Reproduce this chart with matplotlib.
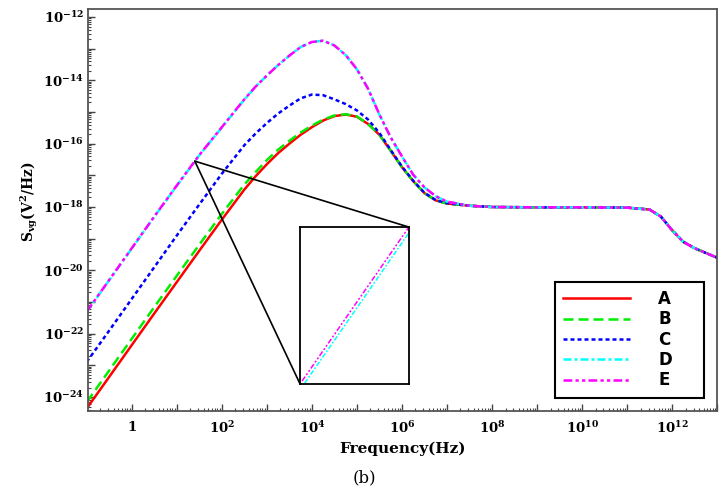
import numpy as np
import matplotlib
matplotlib.use("Agg")
import matplotlib.pyplot as plt
from matplotlib.ticker import LogLocator, FuncFormatter, NullFormatter
from matplotlib.patches import ConnectionPatch

plt.rcParams['mathtext.fontset'] = 'custom'
plt.rcParams['mathtext.rm'] = 'DejaVu Serif'
plt.rcParams['mathtext.it'] = 'DejaVu Serif:italic'
plt.rcParams['mathtext.bf'] = 'DejaVu Serif:bold'

# frequency grid (log10 Hz) and noise PSD (log10 V^2/Hz)
log_f = [-1, -0.5, 0, 0.5, 1, 1.5, 2, 2.5, 2.75, 3, 3.25, 3.5, 3.75, 4, 4.25, 4.5, 4.75,
         5, 5.25, 5.5, 5.75, 6, 6.25, 6.5, 6.75, 7,
         7.5, 8, 9, 10, 11, 11.5, 11.75, 12, 12.25, 12.5, 13]

# common high-frequency part (7.5 .. 13)
plateau = [-17.96, -18.0, -18.01, -18.01, -18.02, -18.08, -18.3, -18.73, -19.1, -19.3, -19.6]

A = [-24.36, -23.36, -22.36, -21.36, -20.37, -19.38, -18.4, -17.45, -17.03, -16.65, -16.3, -16.0,
     -15.72, -15.48, -15.27, -15.13, -15.08, -15.15, -15.38, -15.72, -16.22, -16.74, -17.18,
     -17.56, -17.79, -17.89] + plateau
B = [-24.16, -23.16, -22.16, -21.16, -20.17, -19.19, -18.22, -17.29, -16.9, -16.52, -16.19, -15.91,
     -15.65, -15.43, -15.24, -15.11, -15.07, -15.14, -15.38, -15.72, -16.22, -16.74, -17.18,
     -17.56, -17.79, -17.89] + plateau
C = [-22.89, -21.9, -20.9, -19.9, -18.9, -17.92, -16.95, -16.05, -15.68, -15.35, -15.05, -14.8,
     -14.57, -14.45, -14.47, -14.6, -14.75, -14.95, -15.24, -15.66, -16.2, -16.72, -17.17,
     -17.55, -17.78, -17.88] + plateau
D = [-21.31, -20.31, -19.31, -18.31, -17.33, -16.37, -15.49, -14.61, -14.2, -13.85, -13.52, -13.22,
     -12.95, -12.79, -12.75, -12.9, -13.2, -13.65, -14.27, -15.08, -15.8, -16.4, -16.98,
     -17.38, -17.66, -17.83] + plateau
E = [-21.3, -20.3, -19.3, -18.3, -17.32, -16.36, -15.48, -14.6, -14.2, -13.85, -13.52, -13.22,
     -12.95, -12.79, -12.75, -12.9, -13.2, -13.65, -14.27, -15.08, -15.8, -16.4, -16.98,
     -17.38, -17.66, -17.83] + plateau

labels = ["A", "B", "C", "D", "E"]
colors = ["#ff0000", "#00ee00", "#0000ff", "#00ffff", "#ff00ff"]
dashes = [None, (4, 2), (1.6, 1.2), (3.2, 1.2, 1.2, 1.2), (3.5, 1.3, 1.3, 1.3, 1.3, 1.3)]

f = 10.0 ** np.array(log_f)
series = [A, B, C, D, E]

fig = plt.figure(figsize=(7.28, 4.93), dpi=100)
ax = fig.add_axes([0.121, 0.167, 0.864, 0.814])

lines = []
for vals, lab, col, ds in zip(series, labels, colors, dashes):
    ln, = ax.plot(f, 10.0 ** np.array(vals), color=col, lw=1.8, label=lab)
    if ds is not None:
        ln.set_dashes(ds)
    lines.append(ln)

ax.set_xscale('log')
ax.set_yscale('log')
ax.set_xlim(10 ** -0.97, 10 ** 13.0)
ax.set_ylim(10 ** -24.43, 10 ** -11.76)


def fmt(v, pos):
    e = int(round(np.log10(v)))
    if e % 2:
        return ''
    if e == 0:
        return r'$\mathbf{1}$'
    return r'$\mathbf{10^{%d}}$' % e


for axis in (ax.xaxis, ax.yaxis):
    axis.set_major_locator(LogLocator(base=10, numticks=40))
    axis.set_minor_locator(LogLocator(base=10, subs=np.arange(2, 10), numticks=40))
    axis.set_major_formatter(FuncFormatter(fmt))
    axis.set_minor_formatter(NullFormatter())

ax.tick_params(which='major', direction='in', length=5, width=1, labelsize=9.5, color='#444444')
ax.tick_params(which='minor', direction='in', length=2.5, width=0.8, color='#444444')
ax.tick_params(axis='x', pad=7)
ax.tick_params(axis='y', pad=3)
for sp in ax.spines.values():
    sp.set_color('#555555')
    sp.set_linewidth(1.3)

ax.set_xlabel('Frequency(Hz)', fontsize=11, fontweight='bold', family='DejaVu Serif', labelpad=4)
ax.set_ylabel(r'$\mathbf{S_{vg}(V^2/Hz)}$', fontsize=10)
ax.yaxis.set_label_coords(-0.077, 0.52)

leg = ax.legend(handles=lines, labels=labels, loc='lower left',
                bbox_to_anchor=(0.742, 0.032, 0.237, 0.28), mode='expand', borderaxespad=0,
                handlelength=4.0, handletextpad=1.7, labelspacing=0.14, borderpad=0.5,
                fancybox=False, framealpha=1, edgecolor='black',
                prop={'family': 'DejaVu Sans', 'weight': 'bold', 'size': 12})
leg.get_frame().set_linewidth(1.5)

# zoomed inset around E / D at low frequency
c = 1.4
half = 0.07
x1, x2 = 10 ** (c - half), 10 ** (c + half)
y1 = 10 ** np.interp(c - half, log_f, E)
y2 = 10 ** np.interp(c + half, log_f, E)
axins = ax.inset_axes([0.337, 0.0665, 0.173, 0.391])
for vals, col, ds in zip([D, E], [colors[3], colors[4]], [dashes[3], dashes[4]]):
    ln, = axins.plot(f, 10.0 ** np.array(vals), color=col, lw=1.1)
    ln.set_dashes(ds)
axins.set_xscale('log')
axins.set_yscale('log')
axins.set_xlim(x1, x2)
axins.set_ylim(y1, y2)
axins.set_xticks([])
axins.set_yticks([])
axins.minorticks_off()
for sp in axins.spines.values():
    sp.set_color('black')
    sp.set_linewidth(1.3)

xc, yc = 10 ** c, 10 ** np.interp(c, log_f, E)
for corner in [(0, 0), (1, 1)]:
    con = ConnectionPatch(xyA=(xc, yc), coordsA=ax.transData, xyB=corner,
                          coordsB=axins.transAxes, color='black', lw=1.2)
    fig.add_artist(con)

fig.text(0.5, 0.03, '(b)', ha='center', va='center', fontsize=12, family='DejaVu Serif')

fig.savefig('out.png', dpi=100)
